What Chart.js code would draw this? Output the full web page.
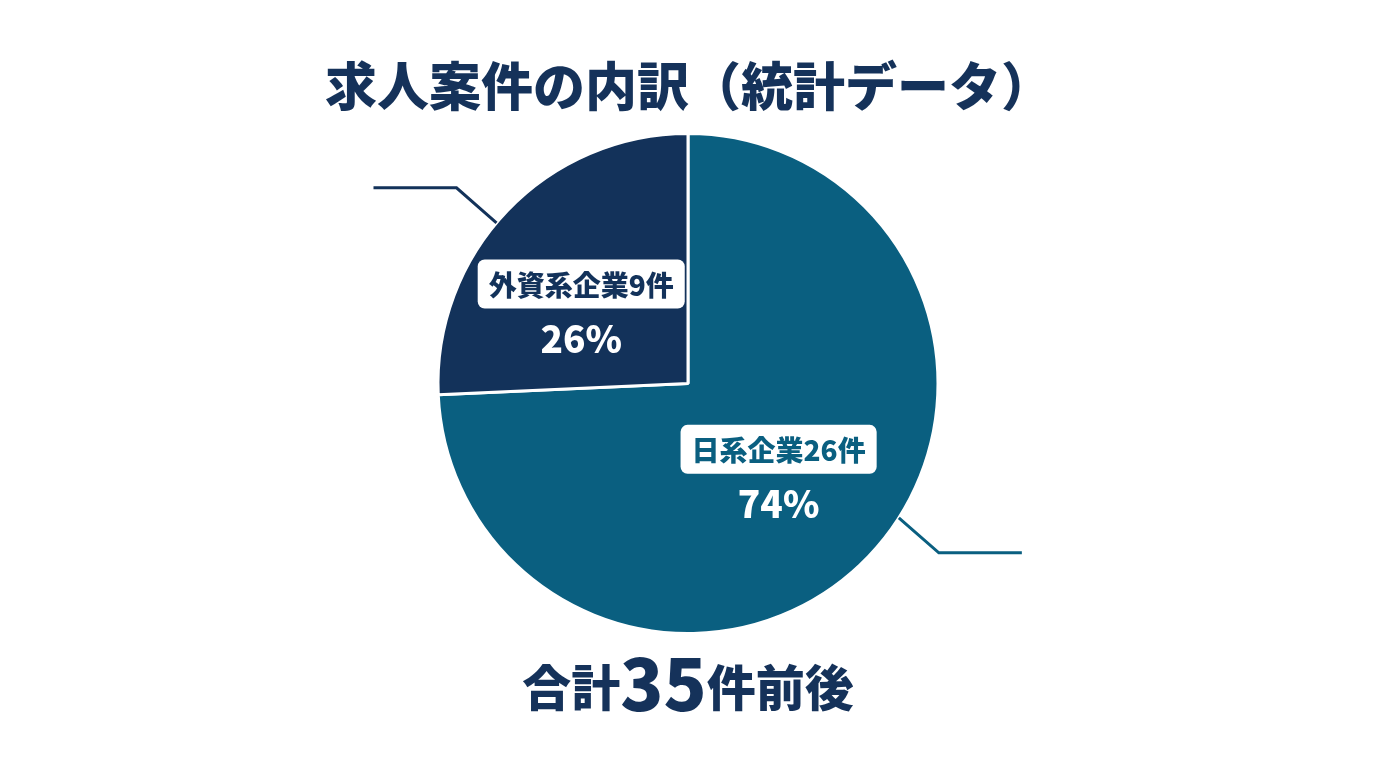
<!DOCTYPE html>
<html lang="ja">
<head>
<meta charset="utf-8">
<title>求人案件の内訳</title>
<script src="https://cdn.jsdelivr.net/npm/chart.js@4.4.0/dist/chart.umd.min.js"></script>
<style>
  html, body { margin: 0; padding: 0; background: #ffffff; }
  #wrap { width: 1376px; height: 768px; }
</style>
</head>
<body>
<div id="wrap"><canvas id="pieChart" width="1376" height="768"></canvas></div>
<script>
// datos del gráfico
var categories = ["日系企業", "外資系企業"];
var counts = [26, 9];
var percents = [74, 26];
var sliceColors = ["#0a5f80", "#13325a"];

var titleText = "求人案件の内訳（統計データ）";
var totalPrefix = "合計";
var totalCount = 35;
var totalSuffix = "件前後";

var FONT = "'Noto Sans CJK JP', 'Noto Sans', sans-serif";

// dónde va cada etiqueta (grados, sentido de las agujas del reloj desde +x)
var labelAngle = [36, 223];
var labelRadius = [112, 146];
var leaderAngle = [32.5, 220];
var leaderDir = [1, -1];

function rad(d) { return d * Math.PI / 180; }

// plugin que dibuja titulo, etiquetas y lineas guia
var annotate = {
  id: "annotate",
  afterDraw: function (chart) {
    var ctx = chart.ctx;
    var arcs = chart.getDatasetMeta(0).data;
    ctx.save();

    // titulo
    ctx.fillStyle = "#15325a";
    ctx.font = "900 52px " + FONT;
    ctx.textAlign = "center";
    ctx.textBaseline = "middle";
    ctx.fillText(titleText, 689, 86);

    for (var i = 0; i < arcs.length; i++) {
      var a = arcs[i];
      var cx = a.x, cy = a.y, r = a.outerRadius;

      // linea guia
      var la = rad(leaderAngle[i]);
      var sx = cx + Math.cos(la) * r;
      var sy = cy + Math.sin(la) * r;
      var d = leaderDir[i];
      var ex = sx + 40 * d;
      var ey = sy + 35 * d;
      ctx.beginPath();
      ctx.moveTo(sx, sy);
      ctx.lineTo(ex, ey);
      ctx.lineTo(ex + 83 * d, ey);
      ctx.strokeStyle = sliceColors[i];
      ctx.lineWidth = 3;
      ctx.stroke();

      // caja con nombre
      var ang = rad(labelAngle[i]);
      var bx = cx + Math.cos(ang) * labelRadius[i];
      var by = cy + Math.sin(ang) * labelRadius[i];
      var txt = categories[i] + counts[i] + "件";
      ctx.font = "900 28px " + FONT;
      var w = ctx.measureText(txt).width + 22;
      var h = 49;
      ctx.beginPath();
      ctx.roundRect(bx - w / 2, by - h / 2, w, h, 7);
      ctx.fillStyle = "#ffffff";
      ctx.fill();
      ctx.fillStyle = sliceColors[i];
      ctx.textAlign = "center";
      ctx.textBaseline = "middle";
      ctx.fillText(txt, bx, by + 1);

      // porcentaje
      ctx.font = "900 37px " + FONT;
      ctx.fillStyle = "#ffffff";
      ctx.fillText(percents[i] + "%", bx, by + 55);
    }

    // total abajo
    var f1 = "900 49px " + FONT;
    var f2 = "900 71px " + FONT;
    ctx.textBaseline = "alphabetic";
    ctx.textAlign = "left";
    ctx.font = f1;
    var w1 = ctx.measureText(totalPrefix).width;
    var w3 = ctx.measureText(totalSuffix).width;
    ctx.font = f2;
    var w2 = ctx.measureText(String(totalCount)).width;
    var x0 = 688 - (w1 + w2 + w3) / 2;
    var base = 706;
    ctx.fillStyle = "#15325a";
    ctx.font = f1;
    ctx.fillText(totalPrefix, x0, base);
    ctx.font = f2;
    ctx.fillText(String(totalCount), x0 + w1, base + 5);
    ctx.font = f1;
    ctx.fillText(totalSuffix, x0 + w1 + w2, base);

    ctx.restore();
  }
};

var pieChart = new Chart(document.getElementById("pieChart"), {
  type: "pie",
  data: {
    labels: categories,
    datasets: [{
      data: counts,
      backgroundColor: sliceColors,
      borderColor: "#ffffff",
      borderWidth: 3,
      hoverOffset: 0
    }]
  },
  options: {
    responsive: false,
    animation: false,
    layout: { padding: { top: 132, bottom: 133, left: 0, right: 0 } },
    plugins: {
      legend: { display: false },
      tooltip: { enabled: false },
      title: { display: false }
    }
  },
  plugins: [annotate]
});
</script>
</body>
</html>
